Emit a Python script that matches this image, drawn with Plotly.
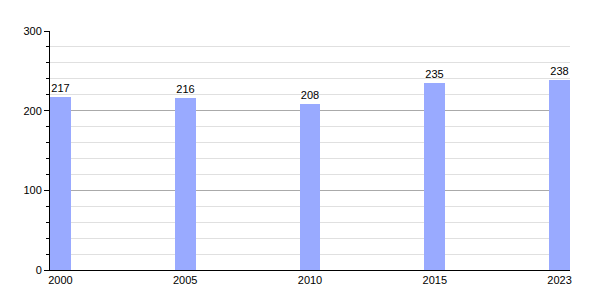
import plotly.graph_objects as go

years = ["2000", "2005", "2010", "2015", "2023"]
values = [217, 216, 208, 235, 238]
bar_color = "#99aaff"

pos = list(range(len(years)))
w = 0.168

fig = go.Figure(go.Bar(
    x=pos, y=values, width=w,
    marker=dict(color=bar_color, line=dict(width=0)),
    text=[str(v) for v in values], textposition="outside",
    textfont=dict(size=11, color="black", family="Liberation Sans, Arial, sans-serif"),
    cliponaxis=False,
))

fig.update_layout(
    width=600, height=300,
    margin=dict(l=50, r=30, t=31, b=30),
    paper_bgcolor="white", plot_bgcolor="white",
    font=dict(family="Liberation Sans, Arial, sans-serif", size=11, color="black"),
    showlegend=False,
    bargap=0,
)
fig.update_xaxes(
    range=[-w / 2, len(years) - 1 + w / 2],
    tickmode="array", tickvals=pos, ticktext=years,
    showgrid=False, zeroline=False,
    showline=True, linecolor="black", linewidth=1,
    ticks="", ticklen=0,
)
fig.update_yaxes(
    range=[0, 300], dtick=100, tick0=0,
    showgrid=True, gridcolor="#aaaaaa", gridwidth=1,
    zeroline=False,
    showline=True, linecolor="black", linewidth=1,
    ticks="outside", ticklen=5, tickcolor="black",
    minor=dict(dtick=20, showgrid=True, gridcolor="#e0e0e0", gridwidth=1,
               ticks="outside", ticklen=3, tickcolor="black"),
)

fig.write_html("out.html")
